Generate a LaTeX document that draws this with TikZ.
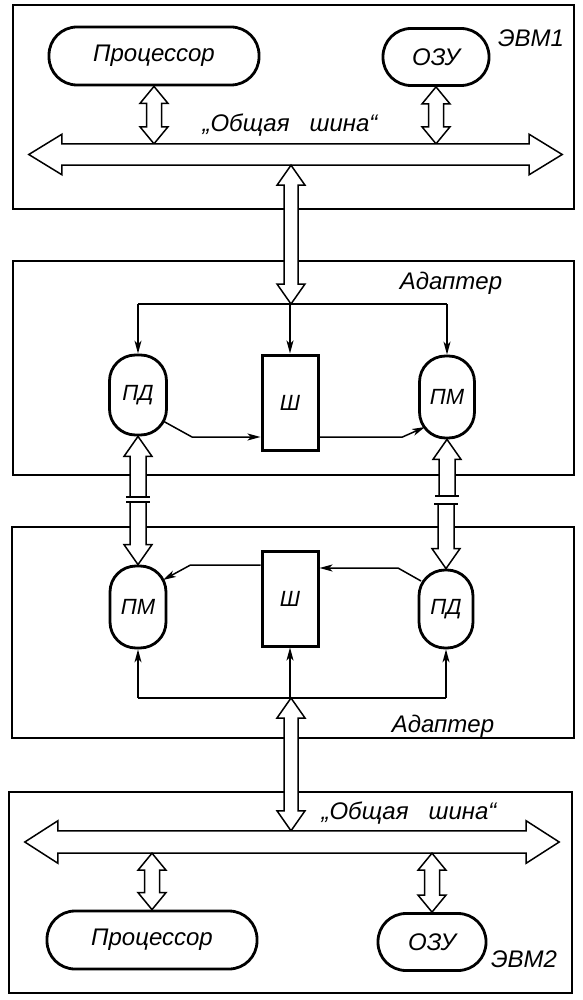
\documentclass[tikz,border=0pt]{standalone}
\usepackage{fontspec}
\setmainfont{Liberation Sans}
\usetikzlibrary{arrows.meta,calc}
\newcommand\vdbl[5]{%
 \path[hollow] let \p1=#1, \p2=#2 in
 (\x1,\y1) -- (\x1-#4,\y1-#5) -- (\x1-#3,\y1-#5) -- (\x1-#3,\y2+#5) -- (\x1-#4,\y2+#5) -- (\x1,\y2)
 -- (\x1+#4,\y2+#5) -- (\x1+#3,\y2+#5) -- (\x1+#3,\y1-#5) -- (\x1+#4,\y1-#5) -- cycle;}
\newcommand\vbrkup[5]{%
 \path[hollow] let \p1=#1, \p2=#2 in
 (\x1,\y1) -- (\x1-#4,\y1-#5) -- (\x1-#3,\y1-#5) -- (\x1-#3,\y2) -- (\x1+#3,\y2) -- (\x1+#3,\y1-#5) -- (\x1+#4,\y1-#5) -- cycle;
 \draw[thinline] let \p1=#1, \p2=#2 in (\x1-#3-4pt,\y2) -- (\x1+#3+4pt,\y2);}
\newcommand\vbrkdown[5]{%
 \path[hollow] let \p1=#1, \p2=#2 in
 (\x2,\y2) -- (\x2-#4,\y2+#5) -- (\x2-#3,\y2+#5) -- (\x2-#3,\y1) -- (\x2+#3,\y1) -- (\x2+#3,\y2+#5) -- (\x2+#4,\y2+#5) -- cycle;
 \draw[thinline] let \p1=#1, \p2=#2 in (\x2-#3-4pt,\y1) -- (\x2+#3+4pt,\y1);}
\newcommand\hbus[2]{% #1 shaft node, #2 head extra
 \path[hollow] (#1.north west) -- (#1.north east) -- ++(0,#2) -- ($(#1.east)+(33,0)$) -- ($(#1.south east)+(0,-#2)$)
 -- (#1.south east) -- (#1.south west) -- ++(0,-#2) -- ($(#1.west)+(-33,0)$) -- ($(#1.north west)+(0,#2)$) -- cycle;}
\begin{document}
\begin{tikzpicture}[x=1pt,y=1pt,
  frame/.style={draw, line width=1.6pt},
  lab/.style={font=\fontsize{24}{24}\selectfont\itshape, inner sep=0pt},
  hcap/.style={draw, line width=2.8pt, rounded corners=28pt, inner sep=0pt, font=\fontsize{24}{24}\selectfont\itshape},
  vcap/.style={draw, line width=2.8pt, rounded corners=26pt, inner sep=0pt, font=\fontsize{22}{22}\selectfont\itshape},
  shbox/.style={draw, line width=3pt, minimum width=56pt, minimum height=95pt, inner sep=0pt, font=\fontsize{22}{22}\selectfont\itshape},
  shaft/.style={inner sep=0pt, minimum height=21pt},
  hollow/.style={draw, line width=1.5pt, fill=white, line join=miter},
  thinline/.style={line width=1.5pt},
  link/.style={line width=1.5pt, -{Stealth[length=13pt,width=7pt,inset=3.5pt]}}
]
\useasboundingbox (0,0) rectangle (582,-1000);
% frames
\draw[frame] (13,-5) rectangle (574,-209);
\draw[frame] (13,-261) rectangle (574,-475);
\draw[frame] (12,-527) rectangle (574,-738);
\draw[frame] (9,-792) rectangle (572,-993);

% ===== EVM1 =====
\node[hcap, minimum width=210pt, minimum height=58pt] (proc1) at (154,-56) {Процессор};
\node[hcap, minimum width=106pt, minimum height=57pt] (ozu1) at (436,-57) {ОЗУ};
\node[lab] (evm1) at (531,-38) {ЭВМ1};
\node[shaft, minimum width=467pt] (bus1) at (295.5,-154.5) {};
\node[lab] (bus1lab) at (290,-125) {„Общая\hspace{20pt}шина“};

% ===== Adapter 1 =====
\node[lab] (ad1) at (451,-283) {Адаптер};
\node[vcap, minimum width=57pt, minimum height=80pt] (pd1) at (138,-395) {ПД};
\node[shbox] (sh1) at (290,-402.5) {Ш};
\node[vcap, minimum width=55pt, minimum height=82pt] (pm1) at (447,-397) {ПМ};
\coordinate (j1) at (291,-304);

% ===== Adapter 2 =====
\node[vcap, minimum width=56pt, minimum height=82pt] (pm2) at (138,-607) {ПМ};
\node[shbox] (sh2) at (290,-598.5) {Ш};
\node[vcap, minimum width=54pt, minimum height=78pt] (pd2) at (446,-609) {ПД};
\node[lab] (ad2) at (443,-726) {Адаптер};
\coordinate (j2) at (291,-698);

% ===== EVM2 =====
\node[shaft, minimum width=468pt, minimum height=22pt] (bus2) at (292,-842) {};
\node[lab] (bus2lab) at (409,-813) {„Общая\hspace{20pt}шина“};
\node[hcap, minimum width=210pt, minimum height=58pt] (proc2) at (152,-940) {Процессор};
\node[hcap, minimum width=108pt, minimum height=57pt] (ozu2) at (432,-942) {ОЗУ};
\node[lab] (evm2) at (524,-959) {ЭВМ2};

% ----- hollow arrows EVM1 -----
\vdbl{(proc1.south)}{(proc1.south |- bus1.north)}{7.5pt}{14pt}{17pt}
\vdbl{(ozu1.south)}{(ozu1.south |- bus1.north)}{7.5pt}{14pt}{17pt}
\hbus{bus1}{9.5pt}
\vdbl{(j1 |- bus1.south)}{(j1)}{7pt}{14pt}{20pt}

% ----- adapter 1 links -----
\draw[thinline] (pd1.north |- j1) -- (pm1.north |- j1);
\draw[link] (pd1.north |- j1) -- (pd1.north);
\draw[link] (sh1.north |- j1) -- (sh1.north);
\draw[link] (pm1.north |- j1) -- (pm1.north);
\draw[link] ([shift={(25,-26)}]pd1.center) -- ++(29,-16) -- ([yshift=-34.5pt]sh1.west);
\draw[link] ([yshift=-34.5pt]sh1.east) -- ++(83,0) -- ([shift={(-22,-30)}]pm1.center);

% ----- broken links between adapters -----
\coordinate (bL1) at (138,-497);
\coordinate (bL2) at (138,-502);
\coordinate (bR1) at (445,-496);
\coordinate (bR2) at (445,-504);
\vbrkup{(pd1.south)}{(bL1)}{8pt}{14pt}{20pt}
\vbrkdown{(bL2)}{(pm2.north)}{8pt}{14pt}{20pt}
\vbrkup{(pm1.south)}{(bR1)}{8pt}{14pt}{20pt}
\vbrkdown{(bR2)}{(pd2.north)}{8pt}{14pt}{20pt}

% ----- adapter 2 links -----
\draw[link] ([yshift=33.5pt]sh2.west) -- ++(-70,0) -- ([shift={(25,27)}]pm2.center);
\draw[link] ([shift={(-25,28)}]pd2.center) -- ++(-23,13) -- ([yshift=30.5pt]sh2.east);
\draw[thinline] (pm2.south |- j2) -- (pd2.south |- j2);
\draw[link] (pm2.south |- j2) -- (pm2.south);
\draw[link] (sh2.south |- j2) -- (sh2.south);
\draw[link] (pd2.south |- j2) -- (pd2.south);

% ----- hollow arrows EVM2 -----
\vdbl{(j2)}{(j2 |- bus2.north)}{7pt}{14pt}{20pt}
\hbus{bus2}{10pt}
\vdbl{(proc2.north |- bus2.south)}{(proc2.north)}{7.5pt}{14pt}{17pt}
\vdbl{(ozu2.north |- bus2.south)}{(ozu2.north)}{7.5pt}{14pt}{17pt}
\end{tikzpicture}
\end{document}
